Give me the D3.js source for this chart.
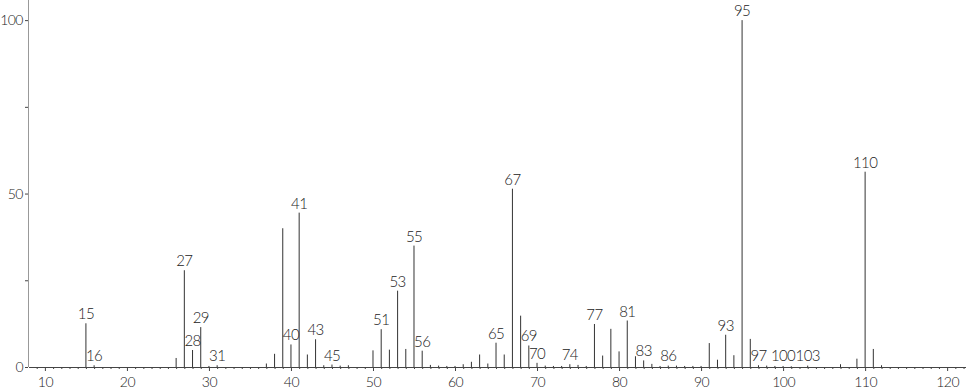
<!DOCTYPE html>
<html>
<head>
<meta charset="utf-8">
<script src="https://cdn.jsdelivr.net/npm/d3@7"></script>
<style>
  body { margin: 0; background: #fff; }
  text { font-family: Lato, "Open Sans", sans-serif; font-weight: 300; fill: #222; }
</style>
</head>
<body>
<div id="chart"></div>
<script>
// m/z values and relative intensities
var mz = [15, 16, 26, 27, 28, 29, 30, 31, 37, 38, 39, 40, 41, 42, 43, 44, 45, 46, 47,
          50, 51, 52, 53, 54, 55, 56, 57, 58, 59, 60, 61, 62, 63, 64, 65, 66, 67, 68, 69, 70,
          71, 72, 73, 74, 75, 76, 77, 78, 79, 80, 81, 82, 83, 84, 85, 86, 87, 88, 89, 90,
          91, 92, 93, 94, 95, 96, 97, 98, 99, 100, 101, 103, 107, 109, 110, 111, 112];
var intensity = [12.6, 0.5, 2.6, 27.9, 4.9, 11.5, 0.3, 0.5, 1.0, 3.8, 40, 6.5, 44.5, 3.6, 8.0, 0.5, 0.7, 0.4, 0.5,
                 4.8, 10.9, 5.0, 22.0, 5.2, 35.0, 4.7, 0.6, 0.4, 0.3, 0.3, 0.8, 1.5, 3.6, 1.0, 7.0, 3.6, 51.4, 14.8, 6.2, 1.2,
                 0.4, 0.3, 0.3, 0.8, 0.6, 0.3, 12.4, 3.3, 11.0, 4.5, 13.4, 3.1, 1.9, 0.9, 0.3, 0.4, 0.4, 0.3, 0.3, 0.3,
                 6.9, 2.1, 9.3, 3.4, 100, 8.1, 0.5, 0.4, 0.3, 0.3, 0.2, 0.4, 0.8, 2.4, 56.3, 5.2, 0.5];
// peaks that carry a label
var labelled = [15, 16, 27, 28, 29, 31, 40, 41, 43, 45, 51, 53, 55, 56, 65, 67, 69, 70, 74,
                77, 81, 83, 86, 93, 95, 97, 100, 103, 110];
var yTicks = [0, 25, 50, 75, 100];
var yTickLabels = [0, 50, 100];
var xMajor = [10, 20, 30, 40, 50, 60, 70, 80, 90, 100, 110, 120];

var margin = {top: 0, right: 0, bottom: 22, left: 28},
    width = 966 - margin.left - margin.right,
    height = 389 - margin.top - margin.bottom;

var svg = d3.select("#chart")
  .append("svg")
  .attr("width", width + margin.left + margin.right)
  .attr("height", height + margin.top + margin.bottom)
  .append("g")
  .attr("transform", "translate(" + margin.left + "," + margin.top + ")");

var data = mz.map(function(m, i) { return {mz: m, value: intensity[i]}; });

var x = d3.scaleLinear().domain([8, 122.3]).range([0.5, width]);
var y = d3.scaleLinear().domain([0, 105.8]).range([height, 0]);

// X axis: minor tick every unit, longer at tens
var minor = d3.range(9, 123).filter(function(v) { return v % 10 !== 0; });
svg.append("g")
  .attr("transform", "translate(0," + height + ")")
  .call(d3.axisBottom(x).tickValues(minor).tickSize(2).tickFormat(""))
  .call(function(g) { g.select(".domain").remove(); })
  .selectAll("line").attr("stroke", "#444");

var xAxis = svg.append("g")
  .attr("transform", "translate(0," + height + ")")
  .call(d3.axisBottom(x).tickValues(xMajor).tickSize(4).tickSizeOuter(0).tickPadding(6));
xAxis.select(".domain").attr("stroke", "#444");
xAxis.selectAll("line").attr("stroke", "#444");
xAxis.selectAll("text").attr("font-size", 14).style("font-family", "Lato, sans-serif")
  .style("letter-spacing", "-0.5px").attr("fill", "#222");

// Y axis
var yAxis = svg.append("g")
  .call(d3.axisLeft(y).tickValues(yTicks).tickSize(3).tickSizeOuter(0).tickPadding(2)
    .tickFormat(function(d) { return yTickLabels.indexOf(d) >= 0 ? d : ""; }));
yAxis.select(".domain").attr("stroke", "#999").attr("d", "M0.5," + height + "V0");
yAxis.selectAll("line").attr("stroke", "#444");
yAxis.selectAll("text").attr("font-size", 14).style("font-family", "Lato, sans-serif")
  .style("letter-spacing", "-0.5px").attr("fill", "#222");

// Peaks
svg.append("g")
  .selectAll("line")
  .data(data)
  .enter().append("line")
  .attr("x1", function(d) { return x(d.mz); })
  .attr("x2", function(d) { return x(d.mz); })
  .attr("y1", y(0))
  .attr("y2", function(d) { return y(d.value); })
  .attr("stroke", "#333")
  .attr("stroke-width", 1);

// Peak labels
svg.append("g")
  .selectAll("text")
  .data(data.filter(function(d) { return labelled.indexOf(d.mz) >= 0; }))
  .enter().append("text")
  .attr("x", function(d) { return x(d.mz); })
  .attr("y", function(d) { return Math.min(y(d.value), y(0) - 2) - 4; })
  .attr("text-anchor", "middle")
  .attr("font-size", 15)
  .style("letter-spacing", "-0.6px")
  .text(function(d) { return d.mz; });
</script>
</body>
</html>
